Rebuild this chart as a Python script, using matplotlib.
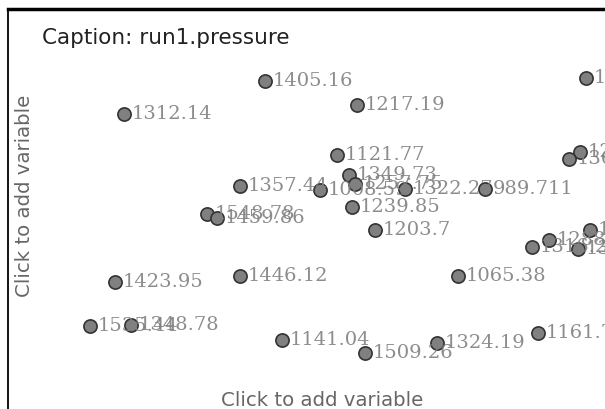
from matplotlib import pyplot as plt

# positions of the dots on the blank (no variable) plot
xs = [265, 124, 357, 586, 337, 349, 355, 240, 320, 405, 485, 580, 569,
      352, 207, 217, 375, 532, 549, 578, 590, 115, 240, 458, 90, 131,
      282, 365, 437, 538]
ys = [82, 115, 106, 79, 156, 176, 185, 187, 191, 190, 190, 153, 160,
      208, 215, 219, 231, 248, 241, 250, 231, 283, 277, 277, 327, 326,
      341, 354, 344, 334]
labels = ['1405.16', '1312.14', '1217.19', '1371.52', '1121.77', '1349.73',
          '1257.75', '1357.44', '1008.59', '1322.27', '989.711', '1283.9',
          '1361.4', '1239.85', '1548.78', '1459.86', '1203.7', '1316.2',
          '1288.5', '1354.7', '1297.3', '1423.95', '1446.12', '1065.38',
          '1535.44', '1348.78', '1141.04', '1509.26', '1324.19', '1161.75']

fig = plt.figure(figsize=(6.05, 4.10), dpi=100)
fig.patch.set_facecolor('white')
ax = fig.add_axes([8 / 605, 0, 1 - 8 / 605, 400 / 410])
ax.set_xlim(8, 605)
ax.set_ylim(410, 10)
ax.set_xticks([])
ax.set_yticks([])
ax.spines['right'].set_visible(False)
ax.spines['bottom'].set_visible(False)
ax.spines['top'].set_linewidth(2.5)
ax.spines['left'].set_linewidth(1.3)

ax.plot(xs, ys, 'o', color='#808080', markeredgecolor='#333333',
        markersize=9.5, markeredgewidth=1.2, clip_on=False)
for x, y, t in zip(xs, ys, labels):
    ax.annotate(t, (x, y), xytext=(5.5, 0.5), textcoords='offset points',
                va='center', ha='left', fontsize=14, family='DejaVu Serif',
                color='#808080', alpha=0.9)

fig.text(42 / 605, 1 - 38 / 410, 'Caption: run1.pressure', fontsize=15.5,
         color='#222222', va='center', ha='left')
fig.text(322 / 605, 1 - 401 / 410, 'Click to add variable', fontsize=14.2,
         color='#666666', va='center', ha='center')
fig.text(25 / 605, 1 - 196 / 410, 'Click to add variable', fontsize=14.2,
         color='#666666', va='center', ha='center', rotation=90)

plt.savefig('out.png', dpi=100, facecolor=fig.get_facecolor())
